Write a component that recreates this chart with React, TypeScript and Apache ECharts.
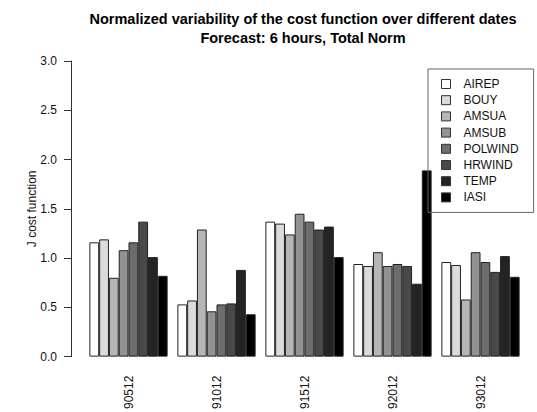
import React, { useEffect, useRef } from "react";
import * as echarts from "echarts";

const dates = ["90512", "91012", "91512", "92012", "93012"];
const seriesNames = ["AIREP", "BOUY", "AMSUA", "AMSUB", "POLWIND", "HRWIND", "TEMP", "IASI"];
const colors = ["#FFFFFF", "#DBDBDB", "#B6B6B6", "#929292", "#6D6D6D", "#494949", "#242424", "#000000"];

const AIREP = [1.16, 0.53, 1.37, 0.94, 0.96];
const BOUY = [1.19, 0.57, 1.35, 0.92, 0.93];
const AMSUA = [0.8, 1.29, 1.24, 1.06, 0.58];
const AMSUB = [1.08, 0.46, 1.45, 0.92, 1.06];
const POLWIND = [1.16, 0.53, 1.37, 0.94, 0.96];
const HRWIND = [1.37, 0.54, 1.29, 0.92, 0.86];
const TEMP = [1.01, 0.88, 1.32, 0.74, 1.02];
const IASI = [0.82, 0.43, 1.01, 1.89, 0.81];

const values = [AIREP, BOUY, AMSUA, AMSUB, POLWIND, HRWIND, TEMP, IASI];
const yTicks = [0, 0.5, 1, 1.5, 2, 2.5, 3];

const FONT = "'Liberation Sans', Arial, Helvetica, sans-serif";

export default function App() {
  const ref = useRef<HTMLDivElement>(null);
  useEffect(() => {
    if (!ref.current) return;
    const chart = echarts.init(ref.current, undefined, { renderer: "svg" });
    chart.setOption({
      animation: false,
      backgroundColor: "#ffffff",
      textStyle: { fontFamily: FONT },
      grid: { left: 84.5, right: 12.5, top: 61, bottom: 55, containLabel: false },
      graphic: [
        {
          type: "text",
          x: 303,
          y: 9,
          style: {
            text: "Normalized variability of the cost function over different dates\nForecast: 6 hours, Total Norm",
            x: 0,
            y: 0,
            textAlign: "center",
            font: "bold 14.5px " + FONT,
            lineHeight: 19,
            fill: "#000",
          },
        },
      ],
      legend: {
        data: seriesNames,
        orient: "vertical",
        left: 428,
        top: 69,
        padding: [8, 15, 8, 13],
        itemWidth: 9,
        itemHeight: 9,
        itemGap: 2.2,
        icon: "rect",
        borderColor: "#666",
        borderWidth: 1,
        borderRadius: 0,
        itemStyle: { borderColor: "#333", borderWidth: 1 },
        textStyle: { fontSize: 12, color: "#111", lineHeight: 14, padding: [0, 0, 0, 8], fontFamily: FONT },
      },
      xAxis: {
        type: "category",
        data: dates,
        axisLine: { show: false },
        axisTick: { show: false },
        splitLine: { show: false },
        axisLabel: { rotate: 90, margin: 19, fontSize: 12, color: "#111", fontFamily: FONT },
      },
      yAxis: {
        type: "value",
        min: 0,
        max: 3,
        interval: 0.5,
        offset: 13.5,
        name: "J cost function",
        nameLocation: "middle",
        nameGap: 33,
        nameMoveOverlap: false,
        nameRotate: 90,
        nameTextStyle: { fontSize: 12, color: "#111", fontFamily: FONT },
        axisLine: { show: true, lineStyle: { color: "#333", width: 1 } },
        axisTick: { show: true, length: 7, lineStyle: { color: "#333" } },
        splitLine: { show: false },
        axisLabel: {
          margin: 14,
          fontSize: 12,
          color: "#111",
          fontFamily: FONT,
          formatter: (v: number) => (yTicks.indexOf(v) >= 0 ? v.toFixed(1) : ""),
        },
      },
      series: seriesNames.map((name, i) => ({
        name,
        type: "bar",
        data: values[i],
        barGap: "0%",
        barCategoryGap: "11.11%",
        itemStyle: { color: colors[i], borderColor: "#222", borderWidth: 1 },
      })),
    });
    return () => chart.dispose();
  }, []);
  return <div ref={ref} style={{ width: 537, height: 412, position: "absolute", left: 0, top: 0 }} />;
}
